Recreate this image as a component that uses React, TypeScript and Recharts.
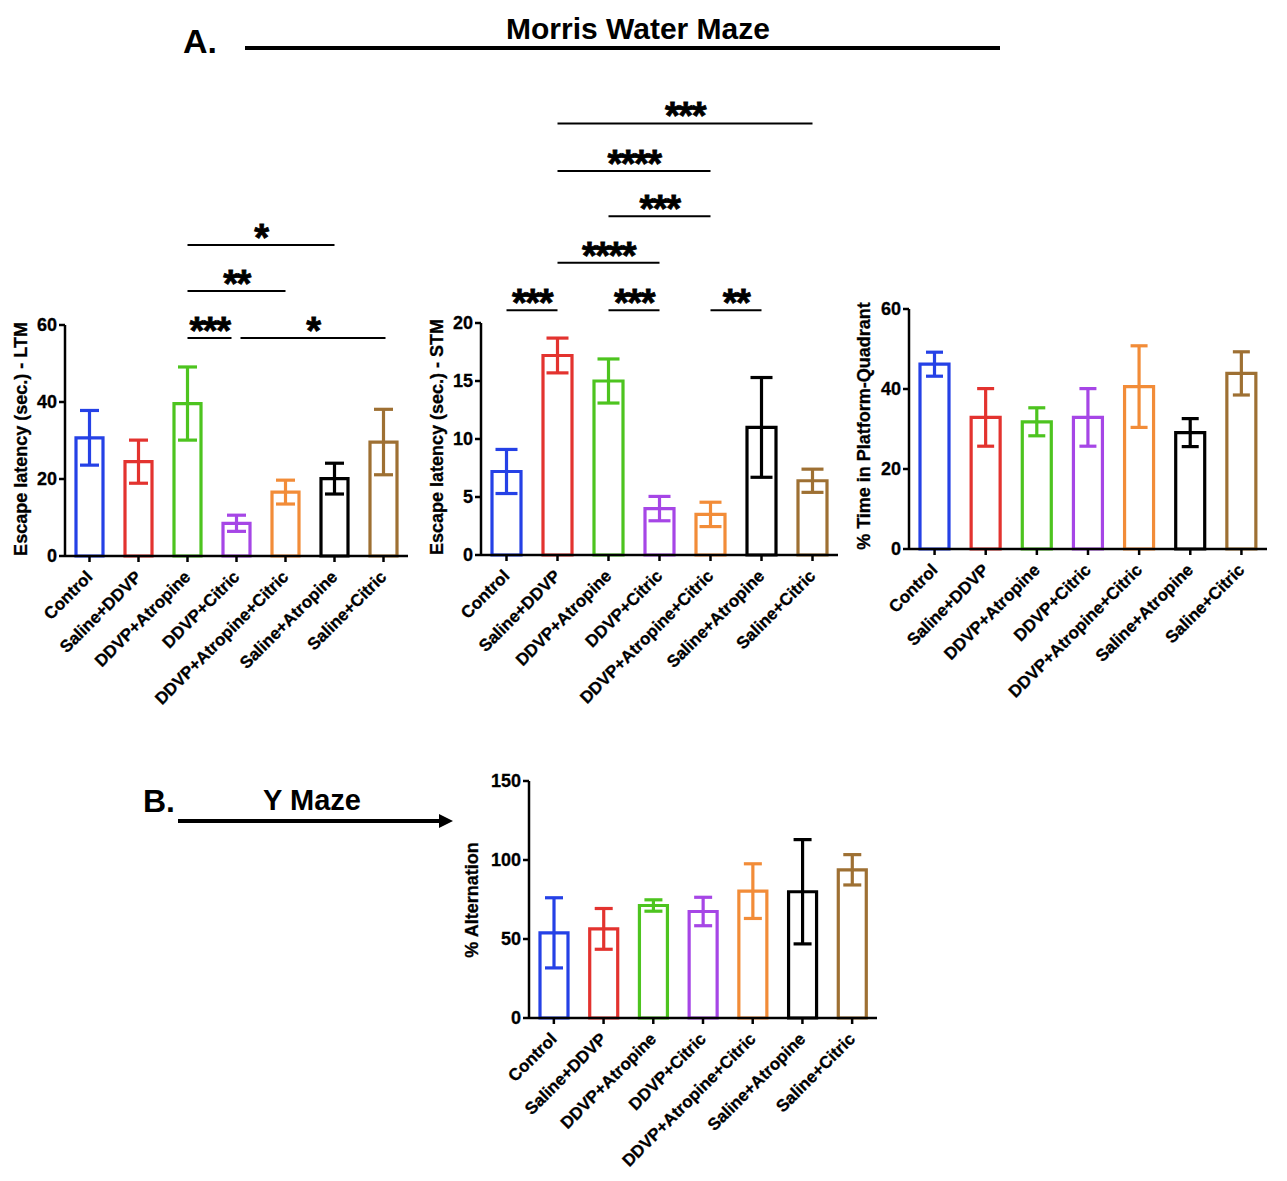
import React from 'react';
import { BarChart, Bar, XAxis, YAxis, Cell, ErrorBar, ReferenceLine } from 'recharts';

const FONT = '"Liberation Sans", Arial, Helvetica, sans-serif';

const groups = [
  'Control',
  'Saline+DDVP',
  'DDVP+Atropine',
  'DDVP+Citric',
  'DDVP+Atropine+Citric',
  'Saline+Atropine',
  'Saline+Citric',
];
const colors = ['#2541e6', '#e3332f', '#4dc41f', '#a646e6', '#f28c38', '#000000', '#9e7033'];

// Escape latency LTM
const ltmMean = [30.7, 24.5, 39.6, 8.5, 16.6, 20.1, 29.6];
const ltmSem = [7.1, 5.6, 9.5, 2.1, 3.1, 4.0, 8.5];
const ltmTicks = [0, 20, 40, 60];
// Escape latency STM
const stmMean = [7.2, 17.2, 15.0, 4.0, 3.5, 11.0, 6.4];
const stmSem = [1.9, 1.5, 1.9, 1.05, 1.05, 4.3, 1.0];
const stmTicks = [0, 5, 10, 15, 20];
// % time in platform quadrant
const pctMean = [46.2, 32.9, 31.8, 32.9, 40.6, 29.1, 43.9];
const pctSem = [3.0, 7.2, 3.5, 7.2, 10.2, 3.5, 5.4];
const pctTicks = [0, 20, 40, 60];
// Y maze % alternation
const ymMean = [53.9, 56.4, 71.2, 67.4, 80.3, 79.9, 93.8];
const ymSem = [22.2, 12.9, 3.6, 9.0, 17.3, 33.0, 9.6];
const ymTicks = [0, 50, 100, 150];

// significance brackets
const ltmSig = [
  { from: 'DDVP+Atropine', to: 'DDVP+Citric', y: 56.6, label: '***' },
  { from: 'DDVP+Citric', to: 'Saline+Citric', y: 56.6, label: '*' },
  { from: 'DDVP+Atropine', to: 'DDVP+Atropine+Citric', y: 68.8, label: '**' },
  { from: 'DDVP+Atropine', to: 'Saline+Atropine', y: 80.8, label: '*' },
];
const ltmTrim = [[0, 5], [4, -2], [0, 0], [0, 0]];
const stmSig = [
  { from: 'Control', to: 'Saline+DDVP', y: 21.1, label: '***' },
  { from: 'DDVP+Atropine', to: 'DDVP+Citric', y: 21.1, label: '***' },
  { from: 'DDVP+Atropine+Citric', to: 'Saline+Atropine', y: 21.1, label: '**' },
  { from: 'Saline+DDVP', to: 'DDVP+Citric', y: 25.2, label: '****' },
  { from: 'DDVP+Atropine', to: 'DDVP+Atropine+Citric', y: 29.2, label: '***' },
  { from: 'Saline+DDVP', to: 'DDVP+Atropine+Citric', y: 33.1, label: '****' },
  { from: 'Saline+DDVP', to: 'Saline+Citric', y: 37.2, label: '***' },
];

const buildRows = (mean: number[], sem: number[]) =>
  groups.map((g, i) => {
    const r: any = { group: g, mean: mean[i] };
    r['e' + i] = sem[i];
    return r;
  });

const AngledTick = (props: any) => {
  const { x, y, payload } = props;
  return (
    <g transform={`translate(${x + 4},${y + 14})`}>
      <text
        transform="rotate(-45)"
        textAnchor="end"
        fontFamily={FONT}
        fontWeight={700}
        fontSize={17}
        fill="#000"
        stroke="#000"
        strokeWidth={0.3}
      >
        {payload.value}
      </text>
    </g>
  );
};

const sigShape = (label: string, trim: number[]) => (p: any) => {
  const x1 = p.x1 + trim[0];
  const x2 = p.x2 - trim[1];
  return (
    <g>
      <line x1={x1} x2={x2} y1={p.y1} y2={p.y2} stroke="#000" strokeWidth={2} />
      <text
        x={(x1 + x2) / 2}
        y={p.y1 + 6}
        textAnchor="middle"
        fontFamily={FONT}
        fontWeight={700}
        fontSize={38}
        letterSpacing={-1.5}
        fill="#000"
        stroke="#000"
        strokeWidth={0.8}
      >
        {label}
      </text>
    </g>
  );
};

type PanelProps = {
  left: number;
  top: number;
  width: number;
  height: number;
  margin: any;
  mean: number[];
  sem: number[];
  ticks: number[];
  barSize: number;
  cap: number;
  sig?: { from: string; to: string; y: number; label: string }[];
  trims?: number[][];
};

const Panel = ({ left, top, width, height, margin, mean, sem, ticks, barSize, cap, sig = [], trims = [] }: PanelProps) => {
  const rows = buildRows(mean, sem);
  return (
    <div style={{ position: 'absolute', left, top, width, height }}>
      <BarChart width={width} height={height} data={rows} margin={margin}>
        <XAxis
          dataKey="group"
          type="category"
          interval={0}
          height={150}
          tickSize={6}
          axisLine={{ stroke: '#000', strokeWidth: 2.5 }}
          tickLine={{ stroke: '#000', strokeWidth: 2.5 }}
          tick={<AngledTick />}
        />
        <YAxis
          type="number"
          domain={[ticks[0], ticks[ticks.length - 1]]}
          ticks={ticks}
          width={40}
          tickSize={6}
          axisLine={{ stroke: '#000', strokeWidth: 2.5 }}
          tickLine={{ stroke: '#000', strokeWidth: 2.5 }}
          tick={{ fill: '#000', stroke: '#000', strokeWidth: 0.3, fontSize: 18, fontWeight: 700, fontFamily: FONT }}
        />
        <Bar dataKey="mean" barSize={barSize} strokeWidth={3.2} isAnimationActive={false}>
          {colors.map((c, i) => (
            <Cell key={i} fill="#ffffff" stroke={c} />
          ))}
          {colors.map((c, i) => (
            <ErrorBar
              key={'eb' + i}
              dataKey={'e' + i}
              width={cap / 2}
              stroke={c}
              strokeWidth={3.2}
              direction="y"
              isAnimationActive={false}
            />
          ))}
        </Bar>
        {sig.map((s, i) => (
          <ReferenceLine
            key={'sig' + i}
            segment={[
              { x: s.from, y: s.y },
              { x: s.to, y: s.y },
            ]}
            ifOverflow="visible"
            shape={sigShape(s.label, trims[i] || [0, 0])}
          />
        ))}
      </BarChart>
    </div>
  );
};

const YLabel = ({ x, y, text }: { x: number; y: number; text: string }) => (
  <text
    transform={`translate(${x},${y}) rotate(-90)`}
    textAnchor="middle"
    dominantBaseline="central"
    fontFamily={FONT}
    fontWeight={700}
    fontSize={18}
    fill="#000"
    stroke="#000"
    strokeWidth={0.3}
  >
    {text}
  </text>
);

export default function App() {
  return (
    <div style={{ position: 'absolute', left: 0, top: 0, width: 1287, height: 1181, background: '#fff', overflow: 'hidden' }}>
      <Panel
        left={0}
        top={200}
        width={430}
        height={520}
        margin={{ top: 125, right: 22, bottom: 14, left: 25 }}
        mean={ltmMean}
        sem={ltmSem}
        ticks={ltmTicks}
        barSize={27}
        cap={19}
        sig={ltmSig}
        trims={ltmTrim}
      />
      <Panel
        left={420}
        top={60}
        width={430}
        height={660}
        margin={{ top: 263, right: 12, bottom: 15, left: 21 }}
        mean={stmMean}
        sem={stmSem}
        ticks={stmTicks}
        barSize={29}
        cap={22}
        sig={stmSig}
      />
      <Panel
        left={850}
        top={200}
        width={437}
        height={520}
        margin={{ top: 109, right: 20, bottom: 21, left: 19 }}
        mean={pctMean}
        sem={pctSem}
        ticks={pctTicks}
        barSize={29}
        cap={17}
      />
      <Panel
        left={440}
        top={740}
        width={450}
        height={441}
        margin={{ top: 41, right: 13, bottom: 13, left: 49 }}
        mean={ymMean}
        sem={ymSem}
        ticks={ymTicks}
        barSize={28}
        cap={18}
      />
      <svg
        width={1287}
        height={1181}
        style={{ position: 'absolute', left: 0, top: 0, pointerEvents: 'none' }}
      >
        <text x={183} y={53} fontFamily={FONT} fontWeight={700} fontSize={34} fill="#000">A.</text>
        <text x={638} y={39} textAnchor="middle" fontFamily={FONT} fontWeight={700} fontSize={30} fill="#000">
          Morris Water Maze
        </text>
        <line x1={245} x2={1000} y1={48} y2={48} stroke="#000" strokeWidth={4} />
        <text x={143} y={812} fontFamily={FONT} fontWeight={700} fontSize={32} fill="#000">B.</text>
        <text x={312} y={810} textAnchor="middle" fontFamily={FONT} fontWeight={700} fontSize={29} fill="#000">
          Y Maze
        </text>
        <line x1={178} x2={442} y1={821} y2={821} stroke="#000" strokeWidth={4} />
        <polygon points="439,814 453,821 439,828" fill="#000" />
        <YLabel x={21} y={439} text="Escape latency (sec.) - LTM" />
        <YLabel x={437} y={437} text="Escape latency (sec.) - STM" />
        <YLabel x={864} y={426} text="% Time in Platform-Quadrant" />
        <YLabel x={472} y={900} text="% Alternation" />
      </svg>
    </div>
  );
}
